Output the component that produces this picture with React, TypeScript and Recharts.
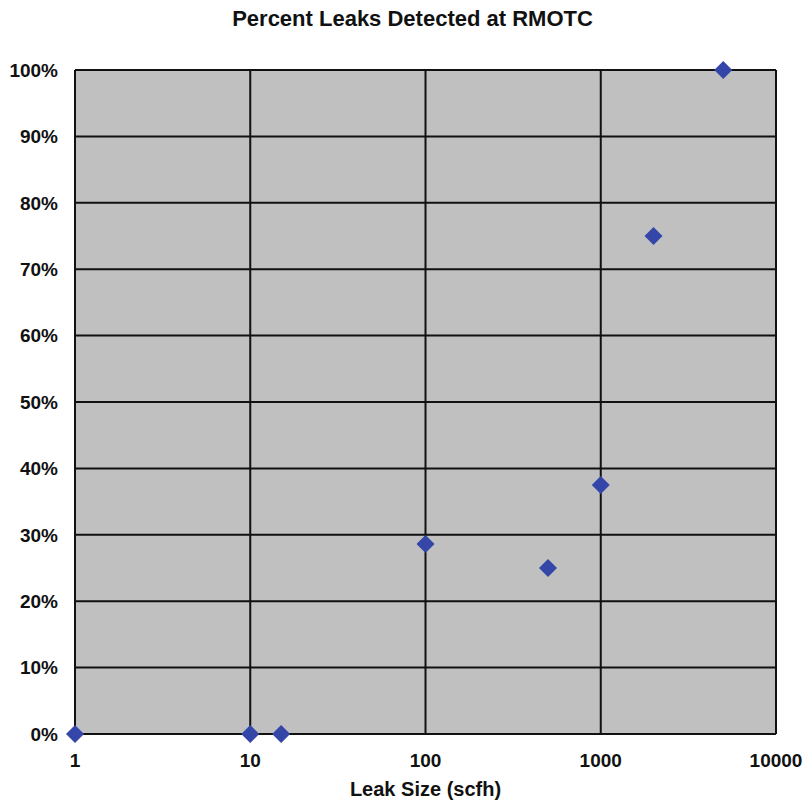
import React from 'react';
import {
  ScatterChart,
  Scatter,
  XAxis,
  YAxis,
  CartesianGrid,
} from 'recharts';

const leakSizes = [1, 10, 15, 100, 500, 1000, 2000, 5000];
const percentDetected = [0, 0, 0, 0.286, 0.25, 0.375, 0.75, 1.0];
const xTicks = [1, 10, 100, 1000, 10000];
const yTicks = [0, 0.1, 0.2, 0.3, 0.4, 0.5, 0.6, 0.7, 0.8, 0.9, 1.0];

const points = leakSizes.map((size, i) => ({ size, pct: percentDetected[i] }));

const FONT = 'Arial, "Liberation Sans", sans-serif';

// Diamond marker like the Excel default
function Diamond(props: any) {
  const { cx, cy } = props;
  if (cx == null || cy == null) return null;
  const r = 9;
  return (
    <path
      d={`M${cx},${cy - r} L${cx + r},${cy} L${cx},${cy + r} L${cx - r},${cy} Z`}
      fill="#3446a8"
    />
  );
}

export default function App() {
  return (
    <div style={{ position: 'absolute', left: 0, top: 0, width: 805, height: 801, background: '#fff', fontFamily: FONT }}>
      <div
        style={{
          position: 'absolute',
          top: 6,
          left: 0,
          width: 825,
          textAlign: 'center',
          fontSize: 22,
          fontWeight: 'bold',
          color: '#111',
        }}
      >
        Percent Leaks Detected at RMOTC
      </div>
      <ScatterChart
        width={805}
        height={801}
        margin={{ top: 70, right: 29, bottom: 0, left: 0 }}
      >
        <CartesianGrid stroke="#111" strokeWidth={2} fill="#c0c0c0" fillOpacity={1} />
        <XAxis
          type="number"
          dataKey="size"
          scale="log"
          domain={[1, 10000]}
          ticks={xTicks}
          axisLine={false}
          tickLine={false}
          height={67}
          tickMargin={14}
          tick={{ fill: '#111', fontSize: 19, fontWeight: 'bold', fontFamily: FONT }}
          label={{
            value: 'Leak Size (scfh)',
            position: 'insideBottom',
            offset: 5,
            fill: '#111',
            fontSize: 20,
            fontWeight: 'bold',
            fontFamily: FONT,
          }}
        />
        <YAxis
          type="number"
          dataKey="pct"
          domain={[0, 1]}
          ticks={yTicks}
          axisLine={false}
          tickLine={false}
          width={75}
          tickMargin={11}
          tickFormatter={(v: number) => `${Math.round(v * 100)}%`}
          tick={{ fill: '#111', fontSize: 19, fontWeight: 'bold', fontFamily: FONT }}
        />
        <Scatter data={points} shape={<Diamond />} isAnimationActive={false} />
      </ScatterChart>
    </div>
  );
}
